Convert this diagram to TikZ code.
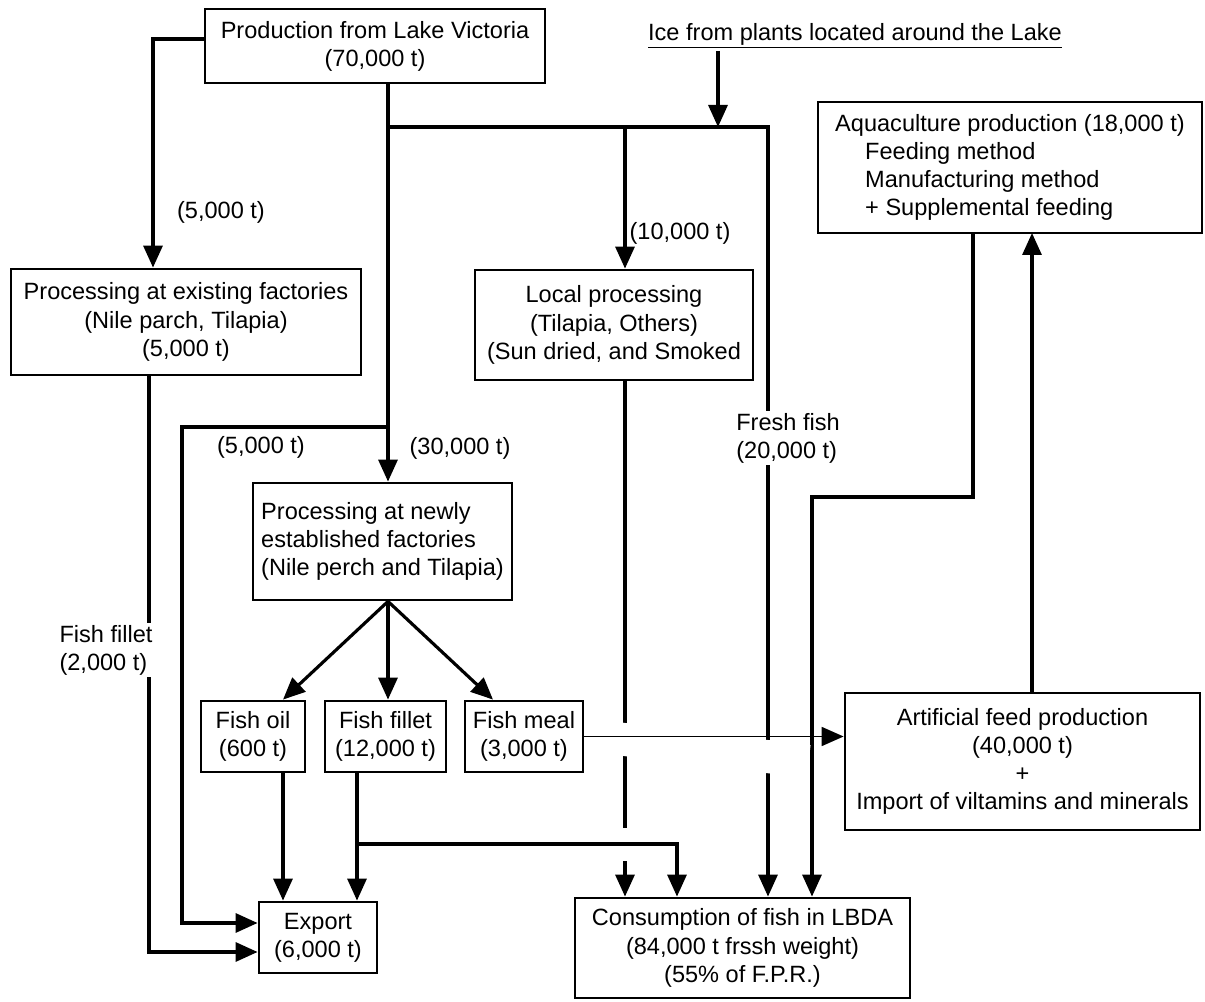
\documentclass[tikz,border=0pt]{standalone}
\usepackage{fontspec}
\setmainfont{Liberation Sans}
\usepackage{tikz}
\usetikzlibrary{arrows.meta,positioning,calc}
\newcommand{\flowfont}{\fontsize{13.4}{16}\selectfont}
\tikzset{
    box/.style={
        draw,
        line width=1.6pt,
        align=center,
        inner sep=0pt,
        font=\flowfont
    },
    flow/.style={
        line width=1.8pt
    },
    arrow/.style={
        -{Triangle[length=4.4mm,width=3.8mm]},
        line width=1.8pt
    },
    thinarrow/.style={
        -{Triangle[length=4.4mm,width=3.8mm]},
        line width=1pt
    },
    bridge/.style={draw=white, line width=6.6mm},
    lbl/.style={font=\flowfont, align=left, inner sep=1pt}
}
\begin{document}
\begin{tikzpicture}[x=0.2mm, y=-0.2mm]
\useasboundingbox (0,0) rectangle (1205,1002);

\node[box, minimum width=68mm, minimum height=14.8mm] (prod) at (375,46)
    {Production from Lake Victoria\\(70,000 t)};
\node[font=\flowfont, inner sep=1pt] (ice) at (855,36)
    {\underline{Ice from plants located around the Lake}};
\node[box, minimum width=70mm, minimum height=21.2mm] (existing) at (186,322)
    {Processing at existing factories\\(Nile parch, Tilapia)\\(5,000 t)};
\node[box, minimum width=55.6mm, minimum height=22mm] (local) at (614,325)
    {Local processing\\(Tilapia, Others)\\(Sun dried, and Smoked};
\node[box, align=left, minimum width=76.8mm, minimum height=26.2mm] (aqua) at (1010,167.5)
    {Aquaculture production (18,000 t)\\\hspace*{6mm}Feeding method\\
     \hspace*{6mm}Manufacturing method\\\hspace*{6mm}+ Supplemental feeding};
\node[box, align=left, minimum width=51.8mm, minimum height=23.4mm] (newfac) at (382.5,541.5)
    {Processing at newly\\established factories\\(Nile perch and Tilapia)};
\node[box, minimum width=20.8mm, minimum height=14.2mm] (oil) at (253,736.5)
    {Fish oil\\(600 t)};
\node[box, minimum width=24.2mm, minimum height=14.2mm] (fillet) at (385.5,736.5)
    {Fish fillet\\(12,000 t)};
\node[box, minimum width=23.6mm, minimum height=14.2mm] (meal) at (524,736.5)
    {Fish meal\\(3,000 t)};
\node[box, minimum width=71mm, minimum height=27.4mm] (feed) at (1022.5,761.5)
    {Artificial feed production\\(40,000 t)\\+\\Import of viltamins and minerals};
\node[box, minimum width=23.6mm, minimum height=14.2mm] (export) at (318,937.5)
    {Export\\(6,000 t)};
\node[box, minimum width=67mm, minimum height=20mm] (cons) at (742.5,948)
    {Consumption of fish in LBDA\\(84,000 t frssh weight)\\(55\% of F.P.R.)};

\coordinate (jl) at (153,39);
\coordinate (jtop) at (388,127);
\coordinate (jloc) at (625,127);
\coordinate (jice) at (718,127);
\coordinate (jfresh) at (768,127);
\coordinate (jexp) at (388,427);
\coordinate (jexpl) at (182,427);
\coordinate (jexpb) at (182,923);
\coordinate (jfil) at (149,952);
\coordinate (joil) at (283,772);
\coordinate (jmeal) at (493,701);
\coordinate (jcons) at (357,844);
\coordinate (jcons2) at (677,844);
\coordinate (jaq) at (973,497);
\coordinate (jaq2) at (812,497);
\coordinate (jup) at (1032,233);

\draw[arrow] (prod.west |- jl) -- (jl) -- (jl |- existing.north);
\draw[arrow] (prod.south -| jtop) -- (jtop |- newfac.north);
\draw[arrow] (jtop) -- (jfresh) -- (jfresh |- cons.north);
\draw[arrow] (ice.south -| jice) -- (jice);
\draw[arrow] (jloc) -- (jloc |- local.north);
\draw[arrow] (jexp) -- (jexpl) -- (jexpb) -- (jexpb -| export.west);
\draw[arrow] (existing.south -| jfil) -- (jfil) -- (jfil -| export.west);
\draw[arrow] (newfac.south -| jtop) -- (oil.north -| joil);
\draw[arrow] (newfac.south -| jtop) -- (fillet.north -| jtop);
\draw[arrow] (newfac.south -| jtop) -- (meal.north -| jmeal);
\draw[arrow] (oil.south -| joil) -- (joil |- export.north);
\draw[arrow] (fillet.south -| jcons) -- (jcons |- export.north);
\draw[arrow] (local.south -| jloc) -- (jloc |- cons.north);
\draw[arrow] (aqua.south -| jaq) -- (jaq) -- (jaq2) -- (jaq2 |- cons.north);
\draw[arrow] (feed.north -| jup) -- (jup);

\draw[bridge] ($(meal.east)+(15,0)$) -- ($(feed.west)+(-35,0)$);
\draw[bridge] ($(jcons)+(15,0)$) -- ($(jcons2)+(-15,0)$);
\draw[thinarrow] (meal.east) -- (meal.east -| feed.west);
\draw[arrow] (jcons) -- (jcons2) -- (jcons2 |- cons.north);

\node[lbl] (l5a) at (221,212) {(5,000 t)};
\node[lbl] (l30) at (460,448) {(30,000 t)};
\node[lbl] (l5b) at (261,447) {(5,000 t)};
\node[lbl] (l10) at (680,233) {(10,000 t)};
\node[lbl, fill=white] (lfresh) at (788,438) {Fresh fish\\(20,000 t)};
\node[lbl, fill=white] (lfillet) at (106,650) {Fish fillet\\(2,000 t)};

\end{tikzpicture}
\end{document}
